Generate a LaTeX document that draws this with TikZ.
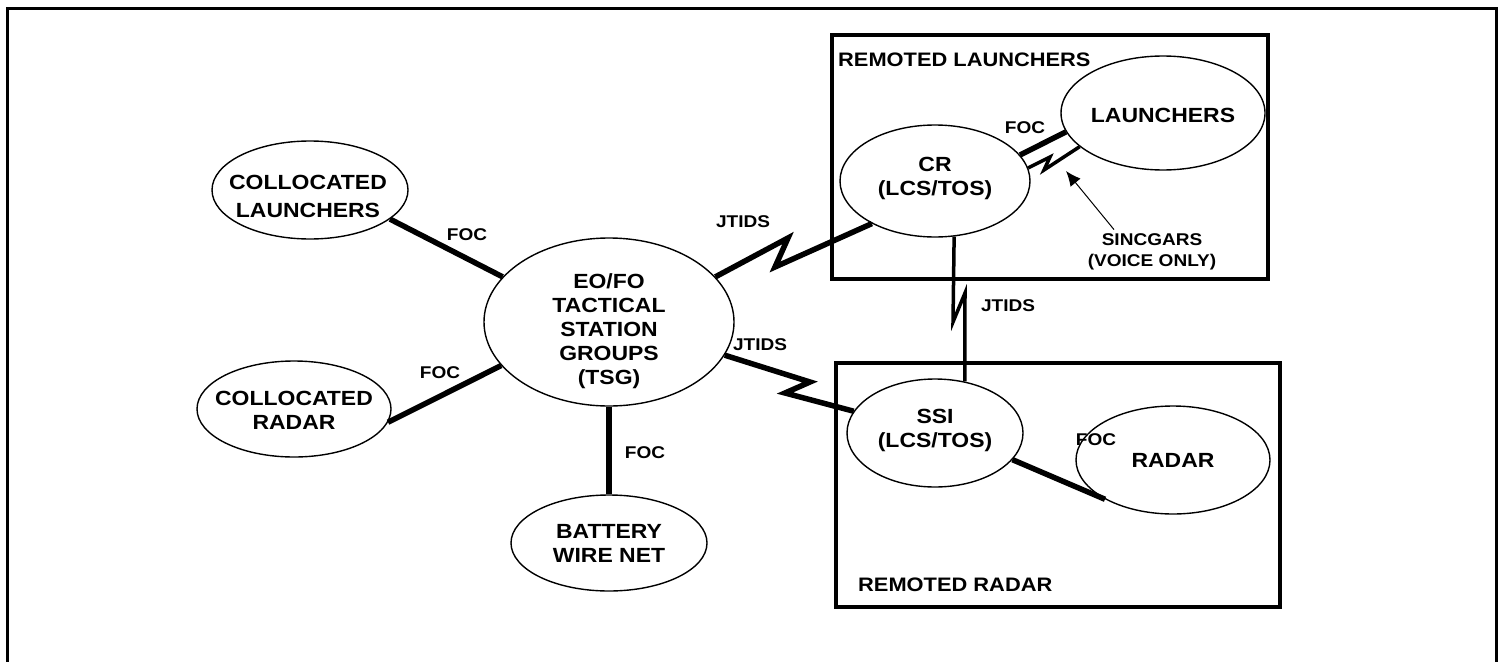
\documentclass[tikz,border=0pt]{standalone}
\usepackage{fontspec}
\setmainfont{Liberation Sans}
\newfontfamily\wf[FakeStretch=1.12]{Liberation Sans}
\usetikzlibrary{shapes.geometric,arrows.meta,calc}
\begin{document}
\begin{tikzpicture}[x=1pt,y=-1pt,
  oval/.style={ellipse,draw,line width=1.4pt,inner sep=0pt},
  ovaltext/.style={inner sep=0pt,align=center,font=\wf\fontsize{20.5}{24}\selectfont\bfseries},
  box/.style={draw,line width=4pt},
  boxlbl/.style={inner sep=0pt,anchor=west,font=\wf\fontsize{19.5}{24}\selectfont\bfseries},
  link/.style={line width=5.5pt,line join=miter},
  thin link/.style={line width=3.5pt,line join=miter},
  lbl/.style={font=\wf\fontsize{17}{21}\selectfont\bfseries,inner sep=0pt},
]
\useasboundingbox (0,0) rectangle (1503,661);
\draw[line width=3pt] (7,9) rectangle (1496,700);
% boxes
\draw[box] (832,35) rectangle (1268,279);
\draw[box] (836,363) rectangle (1280,607);
\node[boxlbl] (rl) at (838,60) {REMOTED LAUNCHERS};
\node[boxlbl] (rr) at (858,585) {REMOTED RADAR};
% ellipses
\node[oval,minimum width=196pt,minimum height=98pt] (cl) at (310,190) {};
\node[ovaltext] (clt) at (308,196) {COLLOCATED\\[4pt]LAUNCHERS};
\node[oval,minimum width=194pt,minimum height=96pt] (crad) at (294,409) {};
\node[ovaltext] (cradt) at (294,410) {COLLOCATED\\RADAR};
\node[oval,minimum width=250pt,minimum height=168pt] (tsg) at (609,322) {};
\node[ovaltext] (tsgt) at (609,331) {EO/FO\\TACTICAL\\STATION\\GROUPS\\(TSG)};
\node[oval,minimum width=196pt,minimum height=96pt] (bat) at (609,543) {};
\node[ovaltext] (batt) at (609,543) {BATTERY\\WIRE NET};
\node[oval,minimum width=190pt,minimum height=112pt] (cr) at (935,181) {};
\node[ovaltext] (crt) at (935,178) {CR\\(LCS/TOS)};
\node[oval,minimum width=204pt,minimum height=114pt] (la) at (1163,113) {};
\node[ovaltext] (lat) at (1163,115) {LAUNCHERS};
\node[oval,minimum width=176pt,minimum height=108pt] (ssi) at (935,433) {};
\node[ovaltext] (ssit) at (935,430) {SSI\\(LCS/TOS)};
\node[oval,minimum width=194pt,minimum height=108pt] (rad) at (1173,460) {};
\node[ovaltext] (radt) at (1173,460) {RADAR};
% plain links
\draw[link] (cl.-20) -- (tsg.157);
\draw[link] (crad.-8) -- (tsg.202);
\draw[link] (tsg.south) -- (bat.north);
\draw[link] (ssi.-19.6) -- (rad.210);
\draw[link] (cr.17.2) -- (la.191.5);
% bolts
\coordinate (b1a) at (788,238);
\coordinate (b1b) at (775,267);
\draw[link] (tsg.23) -- (b1a) -- (b1b) -- (cr.214);
\coordinate (b2a) at (810,382);
\coordinate (b2b) at (785,393);
\draw[link] (tsg.-16) -- (b2a) -- (b2b) -- (ssi.165);
\coordinate (b3a) at (953,322);
\coordinate (b3b) at (965,293);
\draw[thin link] (cr.-71.9) -- (b3a) -- (b3b) -- (ssi.60.4);
\coordinate (b4a) at (1050,157);
\coordinate (b4b) at (1044,170);
\draw[thin link] (cr.8.4) -- (b4a) -- (b4b) -- (la.202.4);
% labels
\node[lbl] (f1) at (467,235) {FOC};
\node[lbl] (f2) at (440,373) {FOC};
\node[lbl] (f3) at (645,453) {FOC};
\node[lbl] (j1) at (743,222) {JTIDS};
\node[lbl] (j2) at (760,345) {JTIDS};
\node[lbl] (j3) at (1008,306) {JTIDS};
\node[lbl] (f4) at (1025,128) {FOC};
\node[lbl] (f5) at (1096,440) {FOC};
\node[lbl,align=center] (sg) at (1152,252) {SINCGARS\\(VOICE ONLY)};
\coordinate (sgtip) at (1066,171);
\draw[line width=1pt,-{Latex[length=15pt,width=13pt]}] ($(sg.north)+(-38,-4)$) -- (sgtip);
\end{tikzpicture}
\end{document}
